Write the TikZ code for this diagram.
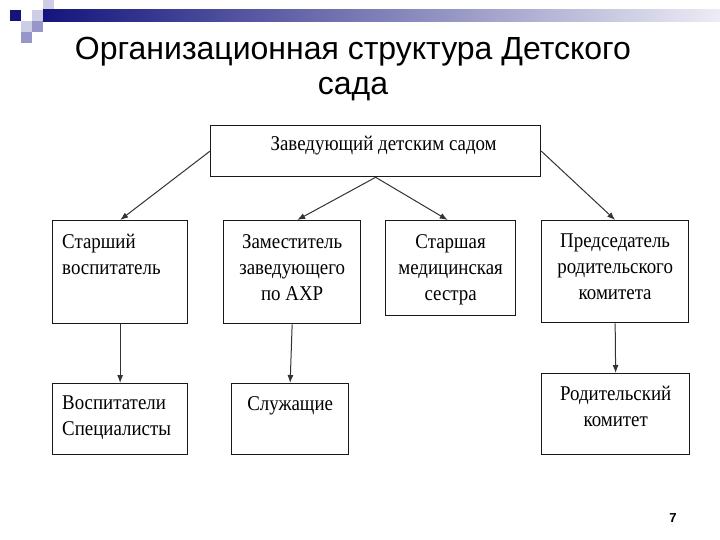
\documentclass[tikz,border=0pt]{standalone}
\usepackage{fontspec}
\setmainfont{Liberation Serif}
\newfontfamily\titlefont{Liberation Sans}
\newfontfamily\boxfont[FakeStretch=0.9]{Liberation Serif}
\usetikzlibrary{arrows.meta,positioning}
\definecolor{decnavy}{RGB}{20,20,125}
\definecolor{declight}{RGB}{205,205,230}
\definecolor{decmid}{RGB}{150,150,200}

\begin{document}
\begin{tikzpicture}[x=1pt,y=-1pt,
    box/.style={draw=black!90, line width=1.3pt, inner sep=0pt, anchor=north west},
    boxtext/.style={font=\boxfont\fontsize{21}{26}\selectfont, align=center, anchor=north, inner sep=0pt},
    link/.style={-{Latex[length=8pt,width=6pt]}, line width=1pt, black!80}]

    \fill[white] (0,0) rectangle (720,540);
    \useasboundingbox (0,0) rectangle (720,540);

    % Corner decoration
    \fill[decnavy] (10,10) rectangle (21,21);
    \fill[declight] (32,10) rectangle (43,21);
    \fill[declight] (43,0) rectangle (54,10);
    \fill[decmid] (43,10) rectangle (54,21);
    \fill[declight] (21,21) rectangle (32,32);
    \fill[decmid] (32,21) rectangle (43,32);
    \fill[decmid] (21,32) rectangle (32,43);
    \shade[left color=decnavy, right color=white!92!decnavy] (43,10) rectangle (720,22);

    % Title
    \node[font=\titlefont\fontsize{32}{36}\selectfont, anchor=base] (title1) at (353,60) {Организационная структура Детского};
    \node[font=\titlefont\fontsize{32}{36}\selectfont, anchor=base] (title2) at (353,95) {сада};

    % Boxes
    \node[box, minimum width=330pt, minimum height=51pt] (head) at (210,125) {};
    \node[box, minimum width=135pt, minimum height=103pt] (sv) at (52,220) {};
    \node[box, minimum width=137pt, minimum height=103pt] (za) at (223,220) {};
    \node[box, minimum width=130pt, minimum height=95pt] (ms) at (385,220) {};
    \node[box, minimum width=147pt, minimum height=102pt] (pr) at (541,220) {};
    \node[box, minimum width=135pt, minimum height=71pt] (vs) at (52,383) {};
    \node[box, minimum width=117pt, minimum height=71pt] (sl) at (231,383) {};
    \node[box, minimum width=148pt, minimum height=81pt] (rk) at (541,373) {};

    % Box texts
    \node[boxtext] (headtxt) at ([xshift=8pt,yshift=-11pt]head.north) {Заведующий детским садом};
    \node[boxtext, align=left, anchor=north west] (svtxt) at ([xshift=10pt,yshift=-14pt]sv.north west) {Старший\\воспитатель};
    \node[boxtext] (zatxt) at ([yshift=-14pt]za.north) {Заместитель\\заведующего\\по АХР};
    \node[boxtext] (mstxt) at ([yshift=-14pt]ms.north) {Старшая\\медицинская\\сестра};
    \node[boxtext] (prtxt) at ([yshift=-14pt]pr.north) {Председатель\\родительского\\комитета};
    \node[boxtext, align=left, anchor=north west] (vstxt) at ([xshift=10pt,yshift=-13pt]vs.north west) {Воспитатели\\Специалисты};
    \node[boxtext] (sltxt) at ([yshift=-13pt]sl.north) {Служащие};
    \node[boxtext] (rktxt) at ([yshift=-13pt]rk.north) {Родительский\\комитет};

    % Connectors
    \draw[link] (head.west) -- (sv.north);
    \draw[link] (head.south) -- ([xshift=5pt]za.north);
    \draw[link] (head.south) -- ([xshift=-3pt]ms.north);
    \draw[link] (head.east) -- (pr.north);
    \draw[link] (sv.south) -- (vs.north);
    \draw[link] (za.south) -- (sl.north);
    \draw[link] (pr.south) -- (rk.north);

    % Page number
    \node[font=\titlefont\bfseries\fontsize{13}{15}\selectfont, anchor=base] (pagenum) at (673,522) {7};
\end{tikzpicture}
\end{document}
